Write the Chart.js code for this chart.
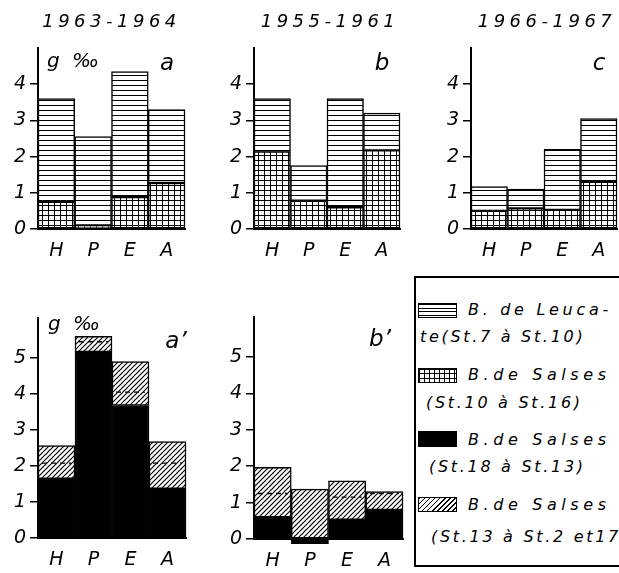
<!DOCTYPE html>
<html>
<head>
<meta charset="utf-8">
<script src="https://cdn.jsdelivr.net/npm/chart.js@4"></script>
<style>
  html, body { margin: 0; padding: 0; background: #fff; }
  body { width: 619px; height: 573px; overflow: hidden; position: relative; }
  canvas { position: absolute; }
  .legend { position: absolute; left: 414px; top: 276px; width: 215px; height: 291px;
            border: 2px solid #000; border-right: none; box-sizing: border-box; }
  .lg { position: absolute; font: italic 16px "DejaVu Sans"; letter-spacing: 2.7px;
        white-space: nowrap; color: #000; line-height: 16px; }
  .lg.h1 { letter-spacing: 3.7px; }
  .lg.h2 { letter-spacing: 4.6px; }
  .sw { position: absolute; left: 418px; width: 39px; height: 15px;
        border: 1.5px solid #000; box-sizing: border-box; }
  .sw.hl { background: repeating-linear-gradient(to bottom, #000 0 1px, #fff 1px 3.6px); }
  .sw.gr { background:
            repeating-linear-gradient(to right, #000 0 1px, transparent 1px 5px),
            repeating-linear-gradient(to bottom, #000 0 1px, #fff 1px 4.5px); }
  .sw.bk { background: #000; height: 16px; }
  .sw.ha { background: repeating-linear-gradient(135deg, #000 0 1.1px, #fff 1.1px 3.6px); }
</style>
</head>
<body>
<canvas id="pa" width="190" height="262" style="left:0;top:0"></canvas>
<canvas id="pb" width="190" height="262" style="left:216px;top:0"></canvas>
<canvas id="pc" width="186" height="262" style="left:433px;top:0"></canvas>
<canvas id="pa2" width="192" height="283" style="left:0;top:290px"></canvas>
<canvas id="pb2" width="192" height="283" style="left:216px;top:290px"></canvas>

<div class="legend"></div>
<div class="sw hl" style="top:303px"></div>
<div class="lg h1" style="left:468px;top:302px">B. de Leuca-</div>
<div class="lg" style="left:420px;top:329px">te(St.7 à St.10)</div>
<div class="sw gr" style="top:368px"></div>
<div class="lg h2" style="left:468px;top:367px">B.de Salses</div>
<div class="lg" style="left:426px;top:395px">(St.10 à St.16)</div>
<div class="sw bk" style="top:431px"></div>
<div class="lg h2" style="left:468px;top:432px">B.de Salses</div>
<div class="lg" style="left:429px;top:459px">(St.18 à St.13)</div>
<div class="sw ha" style="top:497px"></div>
<div class="lg h2" style="left:468px;top:497px">B.de Salses</div>
<div class="lg" style="left:431px;top:529px">(St.13 à St.2 et17</div>

<script>
// Seasons: H (hiver), P (printemps), E (été), A (automne)
const categories = ['H', 'P', 'E', 'A'];

// Panel a: 1963-1964
const salses10a = [0.75, 0.10, 0.88, 1.27];
const leucateA  = [2.85, 2.45, 3.47, 2.03];
// Panel b: 1955-1961
const salses10b = [2.14, 0.78, 0.60, 2.17];
const leucateB  = [1.46, 0.97, 3.00, 1.03];
// Panel c: 1966-1967
const salses10c = [0.50, 0.57, 0.53, 1.30];
const leucateC  = [0.67, 0.53, 1.67, 1.75];
// Panel a': Salses St.18-St.13 (black) and St.13-St.2/17 (hatched)
const salses18a = [1.65, 5.17, 3.68, 1.37];
const salses13a = [0.92, 0.43, 1.22, 1.31];
const meanA2    = [2.08, 5.45, 4.05, 2.08];
// Panel b'
const salses18b = [0.60, -0.13, 0.53, 0.80];
const salses13b = [1.37, 1.37, 1.07, 0.50];
const meanB2    = [1.25, null, 1.15, 1.25];

const yTicksTop = [0, 1, 2, 3, 4];
const yTicksBottom = [0, 1, 2, 3, 4, 5];

const FONT = '"DejaVu Sans"';

function makePattern(kind) {
  const c = document.createElement('canvas');
  const g = c.getContext('2d');
  if (kind === 'hlines') {
    c.width = 8; c.height = 5;
    g.fillStyle = '#fff'; g.fillRect(0, 0, 8, 5);
    g.fillStyle = '#000'; g.fillRect(0, 0, 8, 1);
  } else if (kind === 'grid') {
    c.width = 6; c.height = 5;
    g.fillStyle = '#fff'; g.fillRect(0, 0, 6, 5);
    g.fillStyle = '#000'; g.fillRect(0, 0, 6, 1); g.fillRect(0, 0, 1, 5);
  } else {
    c.width = 5; c.height = 5;
    g.fillStyle = '#fff'; g.fillRect(0, 0, 5, 5);
    g.strokeStyle = '#000'; g.lineWidth = 1.2;
    g.beginPath();
    g.moveTo(-1, 6); g.lineTo(6, -1);
    g.moveTo(-1, 1); g.lineTo(1, -1);
    g.moveTo(4, 6); g.lineTo(6, 4);
    g.stroke();
  }
  return document.createElement('canvas').getContext('2d').createPattern(c, 'repeat');
}

const fills = {
  leucate: makePattern('hlines'),
  salses10: makePattern('grid'),
  salses18: '#000',
  salses13: makePattern('hatch')
};

// Panel captions, unit label, panel letter and dashed mean marks
const decor = {
  id: 'decor',
  afterDraw(chart, args, opts) {
    const { ctx, chartArea: a, scales: { y } } = chart;
    if (opts.means) {
      const meta = chart.getDatasetMeta(0);
      ctx.save();
      ctx.setLineDash([5, 4]);
      ctx.lineWidth = 1.4;
      ctx.strokeStyle = '#000';
      opts.means.forEach((v, i) => {
        if (v == null) return;
        const bar = meta.data[i];
        const half = bar.width / 2;
        const py = y.getPixelForValue(v);
        ctx.beginPath();
        ctx.moveTo(bar.x - half + 4, py);
        ctx.lineTo(bar.x + half - 4, py);
        ctx.stroke();
      });
      ctx.restore();
    }
    (opts.texts || []).forEach(t => {
      ctx.save();
      ctx.fillStyle = '#000';
      ctx.textBaseline = 'middle';
      ctx.textAlign = t.align || 'left';
      ctx.font = `italic ${t.size}px ${FONT}`;
      ctx.letterSpacing = (t.ls || 0) + 'px';
      let px = a.left + t.dx;
      if (t.from === 'right') px = a.right + t.dx;
      if (t.from === 'center') px = (a.left + a.right) / 2 + t.dx;
      ctx.fillText(t.text, px, a.top + t.dy);
      ctx.restore();
    });
  }
};

function seg(label, data, fill) {
  return {
    label, data,
    backgroundColor: fill,
    borderColor: '#000',
    borderWidth: 1.5,
    borderSkipped: false,
    categoryPercentage: 1,
    barPercentage: 1,
    clip: false
  };
}

function panel(id, datasets, cfg) {
  new Chart(document.getElementById(id), {
    type: 'bar',
    data: { labels: categories, datasets },
    options: {
      responsive: false,
      animation: false,
      layout: { padding: { top: cfg.padTop, right: cfg.padRight, left: 0, bottom: 0 } },
      plugins: {
        legend: { display: false },
        tooltip: { enabled: false },
        decor: { texts: cfg.texts, means: cfg.means }
      },
      scales: {
        x: {
          stacked: true,
          grid: { display: false, drawTicks: false },
          border: { display: true, color: '#000', width: 2 },
          ticks: { color: '#000', padding: 11, font: { family: FONT, style: 'italic', size: 19 } },
          afterFit(s) { s.height = cfg.xh; }
        },
        y: {
          stacked: true,
          min: 0,
          max: cfg.max,
          ticks: { stepSize: 1, color: '#000', padding: 4,
                   font: { family: FONT, style: 'italic', size: 19 } },
          afterBuildTicks(s) { s.ticks = cfg.ticks.map(v => ({ value: v })); },
          afterFit(s) { s.width = 38; },
          grid: { drawOnChartArea: false, drawTicks: true, tickLength: 8, color: '#000', lineWidth: 1.5 },
          border: { display: true, color: '#000', width: 2 }
        }
      }
    },
    plugins: [decor]
  });
}

const topCfg = (title, letter, unit, padRight, dx) => ({
  padTop: 48, padRight, xh: 33, max: 5, ticks: yTicksTop,
  texts: [
    { text: title, from: 'center', dx: dx, dy: -26, size: 18, ls: 4.5, align: 'center' },
    { text: letter, from: 'right', dx: -18, dy: 16, size: 23, align: 'center' }
  ].concat(unit ? [{ text: 'g ‰', from: 'left', dx: 9, dy: 14, size: 20, ls: 3 }] : [])
});

panel('pa', [seg('Salses St.10-St.16', salses10a, fills.salses10), seg('Leucate St.7-St.10', leucateA, fills.leucate)],
      topCfg('1963-1964', 'a', true, 5, 0));
panel('pb', [seg('Salses St.10-St.16', salses10b, fills.salses10), seg('Leucate St.7-St.10', leucateB, fills.leucate)],
      topCfg('1955-1961', 'b', false, 6, 3));
panel('pc', [seg('Salses St.10-St.16', salses10c, fills.salses10), seg('Leucate St.7-St.10', leucateC, fills.leucate)],
      topCfg('1966-1967', 'c', false, 2, 3));

panel('pa2', [seg('Salses St.18-St.13', salses18a, fills.salses18), seg('Salses St.13-St.2/17', salses13a, fills.salses13)],
      { padTop: 28, padRight: 6, xh: 35, max: 6.11, ticks: yTicksBottom, means: meanA2,
        texts: [
          { text: 'g ‰', from: 'left', dx: 10, dy: 7, size: 20, ls: 3 },
          { text: 'a\u2019', from: 'right', dx: -10, dy: 24, size: 23, align: 'center' }
        ] });
panel('pb2', [seg('Salses St.18-St.13', salses18b, fills.salses18), seg('Salses St.13-St.2/17', salses13b, fills.salses13)],
      { padTop: 27, padRight: 5, xh: 34, max: 6.1, ticks: yTicksBottom, means: meanB2,
        texts: [
          { text: 'b\u2019', from: 'right', dx: -23, dy: 23, size: 23, align: 'center' }
        ] });
</script>
</body>
</html>
